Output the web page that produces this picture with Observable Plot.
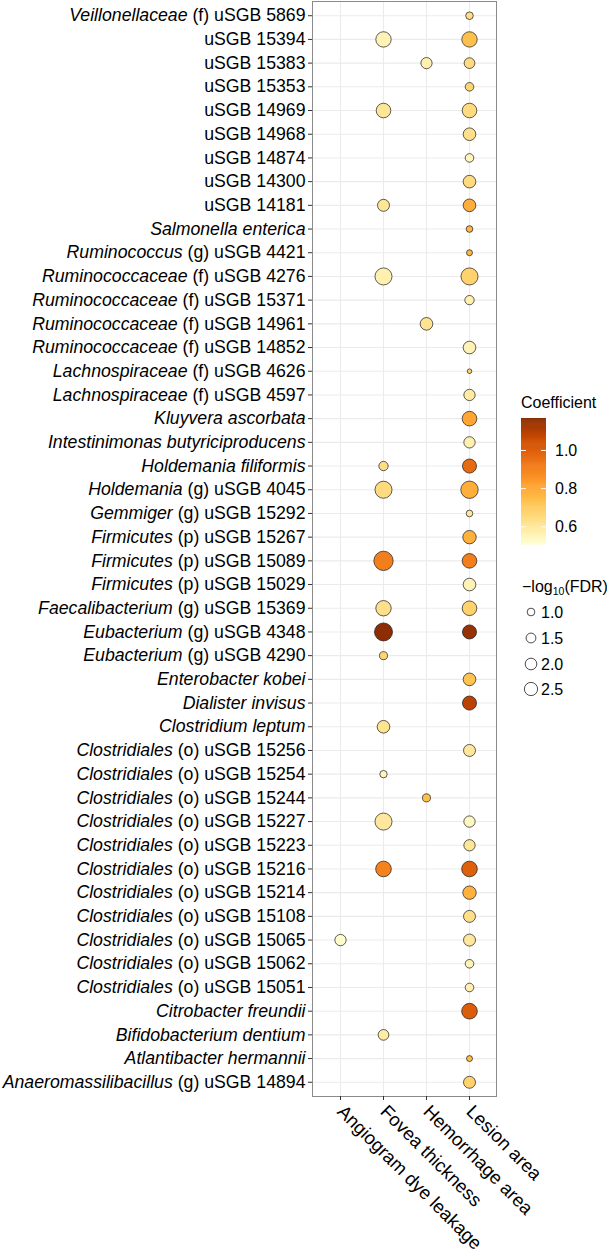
<!DOCTYPE html>
<html><head><meta charset="utf-8">
<script src="https://cdn.jsdelivr.net/npm/d3@7"></script>
<script src="https://cdn.jsdelivr.net/npm/@observablehq/plot@0.6"></script>
<style>
body{margin:0;background:#fff;}
#chart{position:relative;width:607px;height:1254px;}
</style></head><body><div id="chart"></div>
<script>
const taxa = [
  "Veillonellaceae (f) uSGB 5869","uSGB 15394","uSGB 15383","uSGB 15353","uSGB 14969","uSGB 14968",
  "uSGB 14874","uSGB 14300","uSGB 14181","Salmonella enterica","Ruminococcus (g) uSGB 4421",
  "Ruminococcaceae (f) uSGB 4276","Ruminococcaceae (f) uSGB 15371","Ruminococcaceae (f) uSGB 14961",
  "Ruminococcaceae (f) uSGB 14852","Lachnospiraceae (f) uSGB 4626","Lachnospiraceae (f) uSGB 4597",
  "Kluyvera ascorbata","Intestinimonas butyriciproducens","Holdemania filiformis","Holdemania (g) uSGB 4045",
  "Gemmiger (g) uSGB 15292","Firmicutes (p) uSGB 15267","Firmicutes (p) uSGB 15089","Firmicutes (p) uSGB 15029",
  "Faecalibacterium (g) uSGB 15369","Eubacterium (g) uSGB 4348","Eubacterium (g) uSGB 4290","Enterobacter kobei",
  "Dialister invisus","Clostridium leptum","Clostridiales (o) uSGB 15256","Clostridiales (o) uSGB 15254",
  "Clostridiales (o) uSGB 15244","Clostridiales (o) uSGB 15227","Clostridiales (o) uSGB 15223",
  "Clostridiales (o) uSGB 15216","Clostridiales (o) uSGB 15214","Clostridiales (o) uSGB 15108",
  "Clostridiales (o) uSGB 15065","Clostridiales (o) uSGB 15062","Clostridiales (o) uSGB 15051",
  "Citrobacter freundii","Bifidobacterium dentium","Atlantibacter hermannii","Anaeromassilibacillus (g) uSGB 14894"
];
const traits = ["Angiogram dye leakage","Fovea thickness","Hemorrhage area","Lesion area"];

// [taxon, coefficient, -log10(FDR)]
const angiogramDyeLeakage = [
  ["Clostridiales (o) uSGB 15065", 0.52, 1.9]
];
const foveaThickness = [
  ["uSGB 15394", 0.56, 3.25],
  ["uSGB 14969", 0.61, 2.96],
  ["uSGB 14181", 0.61, 2.1],
  ["Ruminococcaceae (f) uSGB 4276", 0.57, 3.9],
  ["Holdemania filiformis", 0.64, 1.37],
  ["Holdemania (g) uSGB 4045", 0.65, 3.9],
  ["Firmicutes (p) uSGB 15089", 0.91, 4.9],
  ["Faecalibacterium (g) uSGB 15369", 0.63, 3.25],
  ["Eubacterium (g) uSGB 4348", 1.17, 4.3],
  ["Eubacterium (g) uSGB 4290", 0.67, 1.07],
  ["Clostridium leptum", 0.62, 2.3],
  ["Clostridiales (o) uSGB 15254", 0.55, 0.94],
  ["Clostridiales (o) uSGB 15227", 0.6, 3.9],
  ["Clostridiales (o) uSGB 15216", 0.9, 3.35],
  ["Bifidobacterium dentium", 0.59, 1.73]
];
const hemorrhageArea = [
  ["uSGB 15383", 0.57, 1.87],
  ["Ruminococcaceae (f) uSGB 14961", 0.62, 2.3],
  ["Clostridiales (o) uSGB 15244", 0.74, 1.07]
];
const lesionArea = [
  ["Veillonellaceae (f) uSGB 5869", 0.64, 0.98],
  ["uSGB 15394", 0.74, 3.25],
  ["uSGB 15383", 0.65, 1.73],
  ["uSGB 15353", 0.67, 1.2],
  ["uSGB 14969", 0.65, 2.96],
  ["uSGB 14968", 0.63, 2.3],
  ["uSGB 14874", 0.55, 1.2],
  ["uSGB 14300", 0.65, 2.3],
  ["uSGB 14181", 0.79, 2.3],
  ["Salmonella enterica", 0.77, 0.8],
  ["Ruminococcus (g) uSGB 4421", 0.77, 0.68],
  ["Ruminococcaceae (f) uSGB 4276", 0.68, 3.9],
  ["Ruminococcaceae (f) uSGB 15371", 0.57, 1.37],
  ["Ruminococcaceae (f) uSGB 14852", 0.56, 2.3],
  ["Lachnospiraceae (f) uSGB 4626", 0.68, 0.46],
  ["Lachnospiraceae (f) uSGB 4597", 0.59, 1.9],
  ["Kluyvera ascorbata", 0.81, 2.96],
  ["Intestinimonas butyriciproducens", 0.57, 1.9],
  ["Holdemania filiformis", 0.97, 2.77],
  ["Holdemania (g) uSGB 4045", 0.79, 4.05],
  ["Gemmiger (g) uSGB 15292", 0.6, 0.8],
  ["Firmicutes (p) uSGB 15267", 0.78, 2.55],
  ["Firmicutes (p) uSGB 15089", 0.91, 2.96],
  ["Firmicutes (p) uSGB 15029", 0.56, 2.3],
  ["Faecalibacterium (g) uSGB 15369", 0.68, 2.96],
  ["Eubacterium (g) uSGB 4348", 1.15, 2.77],
  ["Enterobacter kobei", 0.73, 2.3],
  ["Dialister invisus", 1.09, 2.77],
  ["Clostridiales (o) uSGB 15256", 0.6, 2.1],
  ["Clostridiales (o) uSGB 15227", 0.54, 1.9],
  ["Clostridiales (o) uSGB 15223", 0.61, 1.9],
  ["Clostridiales (o) uSGB 15216", 1.0, 3.35],
  ["Clostridiales (o) uSGB 15214", 0.78, 2.55],
  ["Clostridiales (o) uSGB 15108", 0.63, 2.1],
  ["Clostridiales (o) uSGB 15065", 0.6, 2.1],
  ["Clostridiales (o) uSGB 15062", 0.56, 1.2],
  ["Clostridiales (o) uSGB 15051", 0.57, 1.2],
  ["Citrobacter freundii", 1.01, 3.35],
  ["Atlantibacter hermannii", 0.75, 0.68],
  ["Anaeromassilibacillus (g) uSGB 14894", 0.68, 2.1]
];
const coefLegendTicks = [0.6, 0.8, 1.0];
const fdrLegendValues = [1.0, 1.5, 2.0, 2.5];
const coefPalette = ["#FFFFD4","#FEE391","#FEC44F","#FE9929","#EC7014","#CC4C02","#8C2D04"];

const series = [angiogramDyeLeakage, foveaThickness, hemorrhageArea, lesionArea];
const rows = series.flatMap((arr, i) => arr.map(([taxon, coef, fdr]) => ({trait: traits[i], taxon, coef, fdr})));

const FONT = "'Liberation Sans', Arial, Helvetica, sans-serif";

const plot = Plot.plot({
  width: 607,
  height: 1254,
  marginLeft: 312,
  marginRight: 111,
  marginTop: 1,
  marginBottom: 158,
  style: {fontFamily: FONT, fontSize: "17.7px", color: "#000", background: "#fff"},
  x: {type: "point", domain: traits, padding: 0.6, label: null},
  y: {type: "point", domain: taxa, padding: 0.6, label: null},
  r: {type: "sqrt", domain: [0.04, 6.25], range: [0, 11.04]},
  color: {type: "linear", domain: [0.51, 1.17], interpolate: d3.piecewise(d3.interpolateLab, coefPalette)},
  marks: [
    Plot.gridX({stroke: "#ebebeb", strokeOpacity: 1, strokeWidth: 1.1}),
    Plot.gridY({stroke: "#ebebeb", strokeOpacity: 1, strokeWidth: 1.1}),
    Plot.frame({stroke: "#8a8a8a", strokeWidth: 1}),
    Plot.axisY({tickSize: 4, tickPadding: 3, fontSize: 17.7, stroke: "#333", fill: "#000", label: null}),
    Plot.axisX({tickSize: 4, tickPadding: 8, fontSize: 18.6, tickRotate: 45, textAnchor: "start", stroke: "#333", fill: "#000", label: null}),
    Plot.dot(rows, {x: "trait", y: "taxon", r: "fdr", fill: "coef", stroke: "#1a1a1a", strokeWidth: 0.7})
  ]
});

document.getElementById("chart").appendChild(plot);
const svg = d3.select(plot);

// rich y labels: taxon names in italics
svg.selectAll('g[aria-label="y-axis tick label"] text').each(function() {
  const label = this.textContent;
  const el = d3.select(this);
  el.text(null).style("white-space", "pre");
  let ital = "", rest = "";
  if (label.startsWith("uSGB")) rest = label;
  else if (label.includes(" (")) { const i = label.indexOf(" ("); ital = label.slice(0, i); rest = label.slice(i); }
  else ital = label;
  if (ital) el.append("tspan").attr("font-style", "italic").text(ital);
  if (rest) el.append("tspan").text(rest);
});

// legends
const color = plot.scale("color");
const rScale = plot.scale("r");
const lg = svg.append("g").attr("font-family", FONT).attr("font-size", 16).attr("fill", "#000").attr("text-anchor", "start");

const barX = 521, barW = 25, barTop = 418, barH = 126;
const [c0, c1] = color.domain;
const yOf = v => barTop + (c1 - v) / (c1 - c0) * barH;
lg.append("text").attr("x", barX).attr("y", 408).text("Coefficient");
const steps = 120;
for (let i = 0; i < steps; i++) {
  const v = c1 - (i + 0.5) / steps * (c1 - c0);
  lg.append("rect").attr("x", barX).attr("y", barTop + i * barH / steps).attr("width", barW)
    .attr("height", barH / steps + 0.6).attr("fill", color.apply(v));
}
for (const t of coefLegendTicks) {
  const y = yOf(t);
  lg.append("line").attr("x1", barX).attr("x2", barX + 5).attr("y1", y).attr("y2", y).attr("stroke", "#fff").attr("stroke-width", 1);
  lg.append("line").attr("x1", barX + barW - 5).attr("x2", barX + barW).attr("y1", y).attr("y2", y).attr("stroke", "#fff").attr("stroke-width", 1);
  lg.append("text").attr("x", barX + barW + 9).attr("y", y).attr("dy", "0.35em").text(t.toFixed(1));
}

const tt = lg.append("text").attr("x", 522).attr("y", 592);
tt.append("tspan").text("\u2212log");
tt.append("tspan").attr("font-size", 10.5).attr("dy", 3).text("10");
tt.append("tspan").attr("dy", -3).text("(FDR)");
const keyY = [612, 638, 664, 689];
fdrLegendValues.forEach((v, i) => {
  lg.append("circle").attr("cx", 531).attr("cy", keyY[i]).attr("r", rScale.apply(v))
    .attr("fill", "none").attr("stroke", "#000").attr("stroke-width", 0.7);
  lg.append("text").attr("x", 541).attr("y", keyY[i]).attr("dy", "0.35em").text(v.toFixed(1));
});
</script>
</body></html>
